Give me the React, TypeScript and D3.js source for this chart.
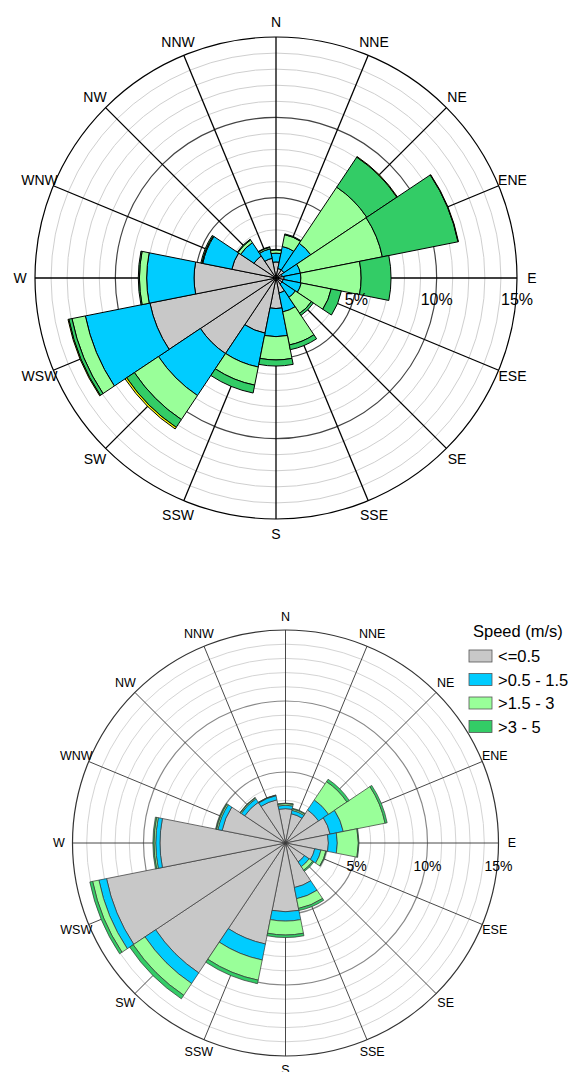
import React from 'react'
import * as d3 from 'd3'

const directions = ['N', 'NNE', 'NE', 'ENE', 'E', 'ESE', 'SE', 'SSE', 'S', 'SSW', 'SW', 'WSW', 'W', 'WNW', 'NW', 'NNW']
const speedBins = ['<=0.5', '>0.5 - 1.5', '>1.5 - 3', '>3 - 5', '>5']
const binColors = ['#c8c8c8', '#00ccff', '#99ff99', '#33cc66', '#ffff00']
const ringTicks = [5, 10, 15]

// upper rose, percent per direction and speed bin
const upperCalm = [1.0, 0.6, 0.6, 0.4, 0.5, 0.45, 0.45, 0.95, 1.9, 3.5, 5.66, 8.0, 5.1, 2.8, 1.65, 1.25]
const upperLow = [0.55, 1.4, 2.0, 1.15, 1.05, 1.15, 1.0, 1.2, 1.75, 2.15, 3.14, 4.1, 2.95, 1.85, 1.0, 0.6]
const upperMid = [0.2, 0.75, 4.2, 5.2, 3.75, 1.9, 1.2, 2.1, 1.45, 1.15, 1.8, 0.85, 0.45, 0.05, 0.2, 0.1]
const upperHigh = [0.03, 0.05, 2.25, 4.8, 1.86, 0.65, 0.15, 0.3, 0.38, 0.5, 0.58, 0.2, 0.07, 0.07, 0.05, 0.03]
const upperTop = [0, 0, 0.04, 0.03, 0, 0, 0, 0, 0, 0, 0.12, 0.05, 0, 0, 0, 0]

// lower rose
const lowerCalm = [2.42, 2.1, 2.8, 3.2, 3.02, 2.1, 1.6, 3.2, 4.84, 7.25, 11.0, 12.85, 8.84, 4.55, 3.45, 3.1]
const lowerLow = [0.24, 0.25, 0.85, 0.95, 0.63, 0.45, 0.4, 0.8, 0.66, 1.15, 0.9, 0.55, 0.3, 0.3, 0.3, 0.3]
const lowerMid = [0.12, 0.1, 1.55, 3.0, 1.48, 0.35, 0.3, 0.7, 0.98, 1.45, 1.0, 0.45, 0.12, 0.1, 0.08, 0.03]
const lowerHigh = [0.03, 0.05, 0.2, 0.15, 0.05, 0.05, 0.1, 0.15, 0.18, 0.25, 0.3, 0.2, 0.08, 0.05, 0.03, 0.02]

const toRows = (cols: number[][]) =>
	directions.map((dir, i) => {
		const row: any = { dir }
		cols.forEach((c, k) => (row['b' + k] = c[i]))
		return row
	})

const Rose = ({ cx, cy, radius, cols, font, pctFont, bold, barStroke, barWidth, spoke, spokeWidth, majorRing, minorRing, outer, pctDy }) => {
	const r = d3.scaleLinear().domain([0, 15]).range([0, radius])
	const rows = toRows(cols)
	const keys = cols.map((_, k) => 'b' + k)
	const stacked = d3.stack().keys(keys)(rows)
	const step = (Math.PI * 2) / directions.length
	const arc = d3.arc()
	const rings = d3.range(1, 16)

	return (
		<g transform={`translate(${cx},${cy})`}>
			{rings.map(t => (
				<circle
					key={t}
					r={r(t)}
					fill="none"
					stroke={t === 15 ? outer : t % 5 === 0 ? majorRing : minorRing}
					strokeWidth={t % 5 === 0 ? 1.2 : 1}
				/>
			))}
			{directions.map((d, i) => {
				const a = i * step
				return (
					<line
						key={d}
						x1={0}
						y1={0}
						x2={Math.sin(a) * radius}
						y2={-Math.cos(a) * radius}
						stroke={spoke}
						strokeWidth={spokeWidth}
					/>
				)
			})}
			{stacked.map((layer, k) =>
				layer.map((seg, i) =>
					seg[1] - seg[0] > 0 ? (
						<path
							key={k + '-' + i}
							d={arc({
								innerRadius: r(seg[0]),
								outerRadius: r(seg[1]),
								startAngle: i * step - step / 2,
								endAngle: i * step + step / 2,
							})}
							fill={binColors[k]}
							stroke={barStroke}
							strokeWidth={barWidth}
							strokeLinejoin="round"
						/>
					) : null
				)
			)}
			{directions.map((d, i) => {
				const a = i * step
				const lr = radius + font + 1
				return (
					<text
						key={'l' + d}
						x={Math.sin(a) * lr}
						y={-Math.cos(a) * lr}
						textAnchor="middle"
						dominantBaseline="central"
						fontSize={font}
						fontWeight={bold ? 'bold' : 'normal'}
					>
						{d}
					</text>
				)
			})}
			{ringTicks.map(t => (
				<text key={'p' + t} x={r(t)} y={pctDy} textAnchor="middle" dominantBaseline="central" fontSize={pctFont}>
					{t}%
				</text>
			))}
		</g>
	)
}

export default function App() {
	const legendItems = speedBins.slice(0, 4)
	return (
		<svg
			width={572}
			height={1072}
			style={{ position: 'absolute', left: 0, top: 0, background: '#fff' }}
			fontFamily="Arial, 'Liberation Sans', sans-serif"
			fill="#000"
		>
			<Rose
				cx={276}
				cy={278}
				radius={241}
				cols={[upperCalm, upperLow, upperMid, upperHigh, upperTop]}
				font={14}
				pctFont={16}
				bold={false}
				barStroke="#000"
				barWidth={1}
				spoke="#000"
				spokeWidth={1.3}
				majorRing="#444"
				minorRing="#cfcfcf"
				outer="#000"
				pctDy={21}
			/>
			<Rose
				cx={285.5}
				cy={843}
				radius={213}
				cols={[lowerCalm, lowerLow, lowerMid, lowerHigh]}
				font={12.5}
				pctFont={14}
				bold={false}
				barStroke="#333"
				barWidth={0.7}
				spoke="#333"
				spokeWidth={0.9}
				majorRing="#888"
				minorRing="#d4d4d4"
				outer="#333"
				pctDy={23}
			/>
			<g transform="translate(469,631)">
				<text x={4} y={0} dominantBaseline="central" fontSize={16.5}>
					Speed (m/s)
				</text>
				{legendItems.map((name, k) => (
					<g key={name} transform={`translate(0,${25 + k * 23.5})`}>
						<rect x={0} y={-6} width={23} height={12} fill={binColors[k]} stroke="#555" strokeWidth={0.8} />
						<text x={29} y={0} dominantBaseline="central" fontSize={16.5}>
							{name}
						</text>
					</g>
				))}
			</g>
		</svg>
	)
}
